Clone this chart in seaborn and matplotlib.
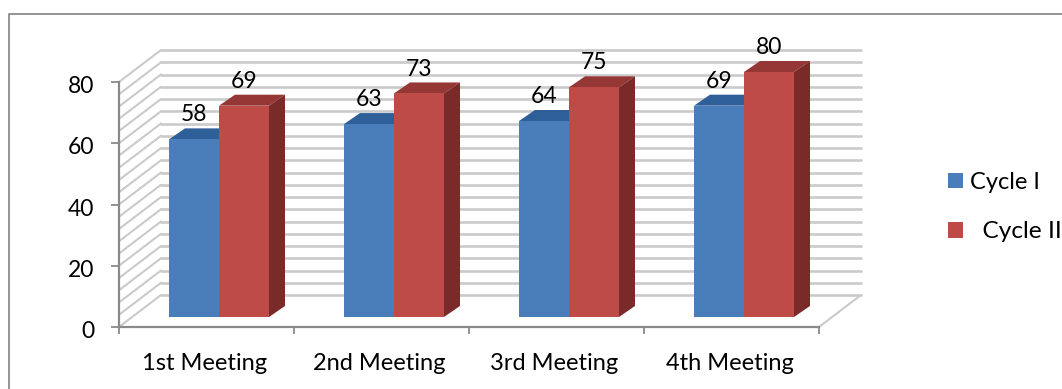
import matplotlib
matplotlib.use("Agg")
import matplotlib.pyplot as plt
from matplotlib.lines import Line2D
from matplotlib.patches import Polygon, Rectangle
from matplotlib.transforms import ScaledTranslation
import numpy as np
import pandas as pd
import seaborn as sns

meetings = ["1st Meeting", "2nd Meeting", "3rd Meeting", "4th Meeting"]
cycle_one = [58, 63, 64, 69]
cycle_two = [69, 73, 75, 80]
series_names = ["Cycle I", "Cycle II"]
y_ticks = [0, 20, 40, 60, 80]
grid_levels = list(range(0, 84, 4))

FIG_W, FIG_H = 1062, 389
FACE = "#4a7ebb"
FACE2 = "#be4b48"
TOP = ("#2f5f98", "#953735")
SIDE = ("#264d7c", "#7a2a28")
GRID = "#cacaca"
AXIS = "#8a8a8a"

sns.set_theme(style="white")
plt.rcParams["font.family"] = ["Lato", "DejaVu Sans"]

fig = plt.figure(figsize=(FIG_W / 100, FIG_H / 100), dpi=100)


def box(x0, x1, y_bottom, y_top):
    return [x0 / FIG_W, 1 - y_bottom / FIG_H, (x1 - x0) / FIG_W, (y_bottom - y_top) / FIG_H]


# Front plane of the 3D frame: category axis and value axis
frame = fig.add_axes(box(119, 819, 327, 82))
frame.set_xlim(-0.5, 3.5)
frame.set_ylim(0, 80)
frame.patch.set_alpha(0)

# Depth of the frame, expressed in data units
depth_x = 42 / 175
depth_y = 32 * 80 / 245

for level in grid_levels:
    frame.plot([-0.5, -0.5 + depth_x], [level, level + depth_y], color=GRID, lw=1.5,
               clip_on=False, zorder=1, solid_capstyle="round")
    frame.plot([-0.5 + depth_x, 3.5 + depth_x], [level + depth_y] * 2, color=GRID, lw=1.9,
               clip_on=False, zorder=1)
frame.plot([3.5, 3.5 + depth_x], [0, depth_y], color=GRID, lw=1.5, clip_on=False, zorder=1)

for name in ["top", "right"]:
    frame.spines[name].set_visible(False)
for name in ["left", "bottom"]:
    frame.spines[name].set_color(AXIS)
    frame.spines[name].set_linewidth(1.6)
frame.set_xticks(np.arange(-0.5, 4.0, 1.0))
frame.set_xticklabels([])
frame.set_xticks(np.arange(4), labels=meetings, minor=True)
frame.set_yticks(y_ticks)
frame.tick_params(axis="x", which="major", length=5, width=1.3, color=AXIS, bottom=True)
frame.tick_params(axis="x", which="minor", length=0, labelsize=17, pad=19, labelcolor="black", bottom=False)
frame.tick_params(axis="y", length=6, width=1.3, color=AXIS, left=True, labelsize=16.5, pad=12,
                  labelcolor="black")

# Nudge tick labels so they sit where the frame's perspective puts them
for label in frame.get_yticklabels():
    label.set_transform(label.get_transform() + ScaledTranslation(0, -2.5 / 100, fig.dpi_scale_trans))
for label in frame.get_xticklabels(minor=True):
    label.set_transform(label.get_transform() + ScaledTranslation(-2 / 100, 0, fig.dpi_scale_trans))

# Bars sit part-way into the depth of the frame
bars_ax = fig.add_axes(box(131.5, 831.5, 317, 72))

table = pd.DataFrame({
    "meeting": meetings * 2,
    "cycle": [series_names[0]] * 4 + [series_names[1]] * 4,
    "score": cycle_one + cycle_two,
})
sns.barplot(data=table, x="meeting", y="score", hue="cycle", hue_order=series_names,
            palette=[FACE, FACE2], width=100 / 175, saturation=1, dodge=True, gap=0,
            errorbar=None, legend=False, linewidth=0, ax=bars_ax, zorder=4)
bars_ax.set_xlim(-0.5, 3.5)
bars_ax.set_ylim(0, 80)
bars_ax.axis("off")

bar_dx = 16 / 175
bar_dy = 11 * 80 / 245
for idx, patch in enumerate(bars_ax.patches[:8]):
    series = idx // 4
    x0, w, h = patch.get_x(), patch.get_width(), patch.get_height()
    x1 = x0 + w
    # Drawing order keeps each red bar in front of the blue bar's side face
    order = 3 + series
    bars_ax.add_patch(Polygon([(x0, h), (x1, h), (x1 + bar_dx, h + bar_dy), (x0 + bar_dx, h + bar_dy)],
                              closed=True, facecolor=TOP[series], edgecolor="none",
                              zorder=order, clip_on=False))
    bars_ax.add_patch(Polygon([(x1, 0), (x1, h), (x1 + bar_dx, h + bar_dy), (x1 + bar_dx, bar_dy)],
                              closed=True, facecolor=SIDE[series], edgecolor="none",
                              zorder=order, clip_on=False))
    patch.set_zorder(order + 0.5)
    patch.set_clip_on(False)
    bars_ax.annotate(str(int(h)), xy=(x0 + w / 2, h), xytext=(0, 10), textcoords="offset points",
                     ha="center", va="bottom", fontsize=16.5, color="black",
                     annotation_clip=False, zorder=8)

# Legend at the right, close to the chart's edge
handles = [Rectangle((0, 0), 1, 1, facecolor=FACE, linewidth=0),
           Rectangle((0, 0), 1, 1, facecolor=FACE2, linewidth=0)]
legend = fig.legend(handles, [series_names[0], "  " + series_names[1]], loc="upper left",
                    bbox_to_anchor=(948 / FIG_W, 1 - 172 / FIG_H), bbox_transform=fig.transFigure,
                    frameon=False, borderpad=0, borderaxespad=0, handlelength=0.62, handleheight=0.62,
                    handletextpad=0.32, labelspacing=1.2, fontsize=17)
legend.get_texts()[0].set_color("black")
legend.get_texts()[1].set_color("black")
legend.get_texts()[1].set_fontsize(17.6)

# Border along the left and top of the chart area
fig.add_artist(Line2D([9 / FIG_W, 9 / FIG_W, 1], [0, 1 - 14 / FIG_H, 1 - 14 / FIG_H],
                      transform=fig.transFigure, color="#8c8c8c", lw=1.3))

fig.savefig("out.png", dpi=100, facecolor="white")
